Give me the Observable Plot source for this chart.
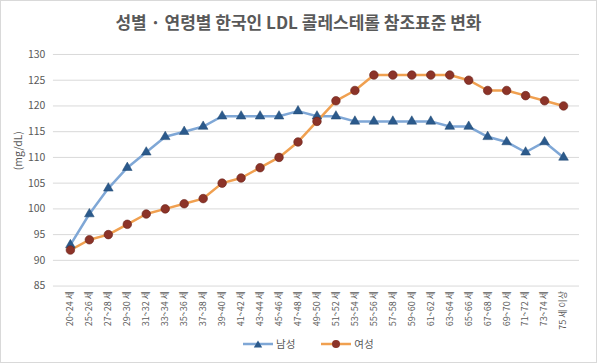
<!DOCTYPE html>
<html><head><meta charset="utf-8">
<script src="https://cdn.jsdelivr.net/npm/d3@7"></script>
<script src="https://cdn.jsdelivr.net/npm/@observablehq/plot@0.6"></script>
<style>
body{margin:0;background:#fff;font-family:"Noto Sans CJK KR","Noto Sans",sans-serif;}
#wrap{position:relative;width:595px;height:361px;border:1px solid #d9d9d9;overflow:hidden;background:#fff;}
#title{position:absolute;top:10px;left:0;width:100%;text-align:center;font-size:17px;font-weight:bold;color:#595959;line-height:22px;}
#chart{position:absolute;top:39px;left:-1px;}
#legend{position:absolute;top:335px;left:242px;display:flex;align-items:center;font-size:10.5px;color:#595959;}
#legend .item{display:flex;align-items:center;margin-right:26px;}
#legend svg{margin-right:3px;}
</style>
</head><body>
<div id="wrap">
<div id="title">성별 · 연령별 한국인 LDL 콜레스테롤 참조표준 변화</div>
<div id="chart"></div>
<div id="legend"></div>
</div>
<script>
const ageGroups = ["20~24 세","25~26 세","27~28 세","29~30 세","31~32 세","33~34 세","35~36 세","37~38 세","39~40 세","41~42 세","43~44 세","45~46 세","47~48 세","49~50 세","51~52 세","53~54 세","55~56 세","57~58 세","59~60 세","61~62 세","63~64 세","65~66 세","67~68 세","69~70 세","71~72 세","73~74 세","75 세 이상"];
const maleValues = [93,99,104,108,111,114,115,116,118,118,118,118,119,118,118,117,117,117,117,117,116,116,114,113,111,113,110];
const femaleValues = [92,94,95,97,99,100,101,102,105,106,108,110,113,117,121,123,126,126,126,126,126,125,123,123,122,121,120];
const yTicks = [85,90,95,100,105,110,115,120,125,130];
const seriesNames = ["남성","여성"];
const yLabel = "(mg/dL)";

const lineColors = {"남성":"#7fa7d6","여성":"#f0a050"};
const markColors = {"남성":"#2b5a8c","여성":"#8c3328"};

const data = [];
ageGroups.forEach((a,i)=>{
  data.push({age:a, sex:seriesNames[0], v:maleValues[i]});
  data.push({age:a, sex:seriesNames[1], v:femaleValues[i]});
});

const chart = Plot.plot({
  width:597, height:300,
  marginTop:14, marginBottom:54, marginLeft:53, marginRight:17,
  x:{type:"point", domain:ageGroups, padding:0.5},
  y:{domain:[85,130]},
  style:{fontFamily:'"Noto Sans CJK KR","Noto Sans",sans-serif', color:"#595959", background:"transparent"},
  marks:[
    Plot.ruleY(yTicks, {stroke:"#d9d9d9", strokeWidth:1}),
    Plot.axisY({ticks:yTicks, tickSize:0, tickPadding:8, label:null, fontSize:10.5}),
    Plot.axisX({tickSize:0, tickRotate:-90, tickPadding:5, label:null, fontSize:9}),
    Plot.text([yLabel], {frameAnchor:"left", dx:-35, rotate:-90, fontSize:10.5, fill:"#595959"}),
    Plot.line(data, {x:"age", y:"v", z:"sex", stroke:d=>lineColors[d.sex], strokeWidth:2.5}),
    Plot.dot(data.filter(d=>d.sex===seriesNames[0]), {x:"age", y:"v", symbol:"triangle", r:3.6, fill:markColors["남성"], stroke:"#1f4670", strokeWidth:0.5}),
    Plot.dot(data.filter(d=>d.sex===seriesNames[1]), {x:"age", y:"v", symbol:"circle", r:4.3, fill:markColors["여성"], stroke:"#6a2219", strokeWidth:0.6})
  ]
});
document.getElementById("chart").appendChild(chart);

const legend = document.getElementById("legend");
seriesNames.forEach(name=>{
  const item = document.createElement("div");
  item.className = "item";
  const isMale = name===seriesNames[0];
  const marker = isMale
    ? `<path d="M15,1.5 L19.2,8.5 L10.8,8.5 Z" fill="${markColors[name]}"/>`
    : `<circle cx="15" cy="5" r="4" fill="${markColors[name]}"/>`;
  item.innerHTML = `<svg width="30" height="10"><line x1="0" x2="30" y1="5" y2="5" stroke="${lineColors[name]}" stroke-width="2.5"/>${marker}</svg><span>${name}</span>`;
  legend.appendChild(item);
});
</script>
</body></html>
